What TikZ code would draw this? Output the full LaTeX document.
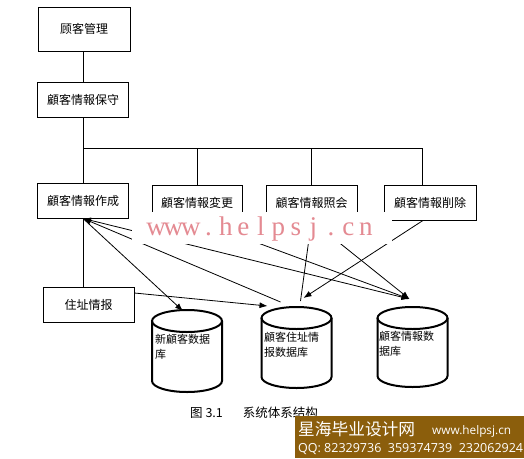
\documentclass[tikz,border=0pt]{standalone}
\usepackage{fontspec}
\setmainfont{Noto Sans CJK SC}
\newfontfamily\wmfont{Liberation Serif}
\newfontfamily\latinfont{Open Sans}
\usetikzlibrary{arrows.meta}
\definecolor{bannerbrown}{RGB}{139,94,12}
\definecolor{wmpink}{RGB}{228,138,146}
\newcommand\dbcyl[4]{%
  \coordinate (#1) at (#2,#3);
  \draw[cylbody] (#2-35,#3+11) -- (#2-35,#4-11)
     arc[start angle=180,end angle=360,x radius=35pt,y radius=11pt] -- (#2+35,#3+11);
  \draw[cylbody] (#2,#3+11) ellipse[x radius=35pt,y radius=11pt];
}
\newcommand\wmc[1]{\makebox[17.5pt][c]{#1}}
\begin{document}
\begin{tikzpicture}[x=1pt,y=-1pt,
  box/.style={draw,line width=0.9pt,minimum width=91pt,minimum height=35pt,inner sep=0pt,font=\fontsize{12}{14}\selectfont},
  link/.style={line width=0.8pt},
  arr/.style={line width=0.8pt,-{Latex[length=8pt,width=6pt]}},
  biarr/.style={line width=0.8pt,{Latex[length=8pt,width=6pt]}-{Latex[length=8pt,width=6pt]}},
  cylbody/.style={line width=2pt},
  cyltext/.style={anchor=north west,align=left,inner sep=0pt,font=\fontsize{11}{15}\selectfont}
]
\useasboundingbox (0,0) rectangle (524,458);
\fill[white] (0,0) rectangle (524,458);

% boxes
\node[box,minimum width=92pt,minimum height=44pt] (gl) at (84,29) {顾客管理};
\node[box] (bs) at (83,100) {顧客情報保守};
\node[box] (zc) at (83,200.5) {顧客情報作成};
\node[box,minimum width=90pt] (bg) at (197,202.5) {顧客情報変更};
\node[box] (zh) at (311.5,202.5) {顧客情報照会};
\node[box,minimum width=92pt] (sc) at (430,202.5) {顧客情報削除};
\node[box] (zz) at (88.5,304.5) {住址情报};

% tree
\coordinate (bus) at (83,148);
\coordinate (busR) at (422,148);
\draw[link] (bs.north |- gl.south) -- (bs.north);
\draw[link] (bs.south) -- (zc.north);
\draw[link] (bus) -- (busR);
\draw[link] (bg.north) -- (bg.north |- bus);
\draw[link] (zh.north) -- (zh.north |- bus);
\draw[link] (busR) -- (busR |- sc.north);
\draw[link] (zc.south) -- (zc.south |- zz.north);

% cylinders
\dbcyl{c1}{187}{310}{392}
\dbcyl{c2}{296.5}{307}{388}
\dbcyl{c3}{412.5}{307}{387}
\node[cyltext] (t1) at (155,334) {新顧客数据\\库};
\node[cyltext] (t2) at (264,332) {顧客住址情\\报数据库};
\node[cyltext] (t3) at (379,331) {顧客情報数\\据库};

% connectors
\draw[arr] (zc.south) -- ([shift={(-4,1)}]c1);
\draw[biarr] (zc.south) -- ([shift={(-3,-8)}]c3);
\draw[arr] ([shift={(-16,-5)}]c2) -- (zc.south);
\draw[arr] (bg.south) -- ([shift={(-3,-8)}]c3);
\draw[arr] (zh.south) -- ([shift={(-3,-8)}]c3);
\draw[link] (zh.south) -- ([shift={(4,-6)}]c2);
\draw[arr] ([xshift=-7pt]sc.south) -- ([shift={(7,-9)}]c2);
\draw[arr] ([yshift=11.5pt]zz.east) -- ([shift={(-29,-1)}]c2);

% watermark
\fill[white] (132,212) rectangle (392,244);
\node[text=wmpink,font=\wmfont\fontsize{27}{30}\selectfont,inner sep=0] (wm) at (261,229)
  {\wmc{w}\wmc{w}\wmc{w}\wmc{.}\wmc{h}\wmc{e}\wmc{l}\wmc{p}\wmc{s}\wmc{j}\wmc{.}\wmc{c}\wmc{n}};

% caption
\node[anchor=west,inner sep=0,font=\fontsize{12.5}{14}\selectfont] (cap) at (190,413) {图 3.1\hspace{1.6em}系统体系结构};

% banner
\fill[bannerbrown] (295,416) rectangle (524,458);
\node[anchor=base west,text=white,inner sep=0,font=\fontsize{16.7}{18}\selectfont] (b1) at (298,435) {星海毕业设计网};
\node[anchor=base west,text=white,inner sep=0,font=\latinfont\fontsize{11.8}{14}\selectfont] (b2) at (432,434) {www.helpsj.cn};
\node[anchor=base west,text=white,inner sep=0,font=\latinfont\fontsize{12.5}{14}\selectfont] (b3) at (298,452) {QQ: 82329736\ \ 359374739\ \ 232062924};
\end{tikzpicture}
\end{document}
